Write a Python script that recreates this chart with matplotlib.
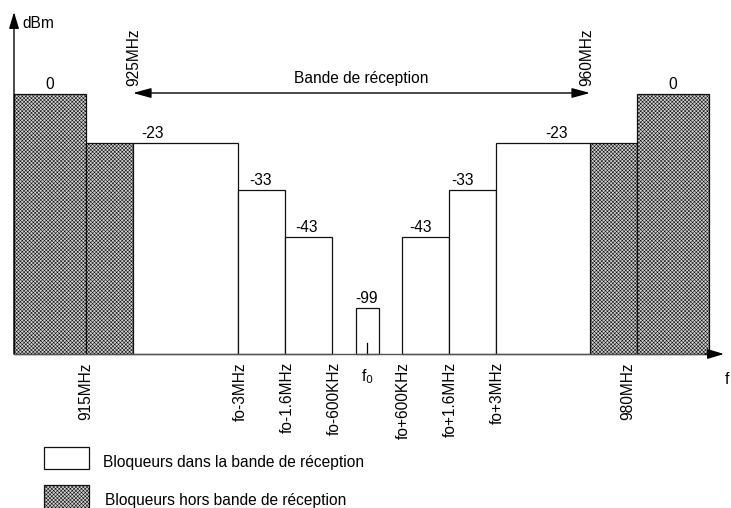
import matplotlib
matplotlib.use('Agg')
import matplotlib.pyplot as plt
from matplotlib.patches import Rectangle

plt.rcParams['font.family'] = ['Liberation Sans', 'DejaVu Sans']
plt.rcParams['hatch.linewidth'] = 0.4
plt.rcParams['hatch.color'] = '#3a3a3a'

# blockers inside the reception band (schematic x position, width, level in dBm, drawn height)
band_left = [133, 238, 285, 356, 402, 449, 496]
band_width = [105, 47, 47, 23, 47, 47, 94]
band_level = [-23, -33, -43, -99, -43, -33, -23]
band_height = [211, 164, 117, 46, 117, 164, 211]
band_label_x = [153, 261, 306, 367, 421, 462, 556]

# blockers outside the reception band
out_left = [14, 86, 590, 637]
out_width = [72, 47, 47, 72]
out_level = [0, -23, -23, 0]
out_height = [260, 211, 211, 260]
out_label_x = [50, None, None, 673]

# frequency ticks under the axis
tick_x = [86, 240, 287, 334, 403, 450, 497, 628]
tick_labels = ['915MHz', 'fo-3MHz', 'fo-1.6MHz', 'fo-600KHz',
               'fo+600KHz', 'fo+1.6MHz', 'fo+3MHz', '980MHz']

fig = plt.figure(figsize=(7.31, 5.08), dpi=100)
ax = fig.add_axes([0, 0, 1, 1])
ax.set_xlim(0, 731)
ax.set_ylim(-154, 354)
ax.axis('off')

fs = 11.2
hatch = 'xxxxxxxxx'
grey = '#d2d2d2'

# hatched out-of-band blockers
ax.bar(out_left, out_height, width=out_width, align='edge', facecolor=grey,
       edgecolor='#111111', linewidth=0.9, hatch=hatch, zorder=2)
for x, h, lv in zip(out_label_x, out_height, out_level):
    if x is not None:
        ax.text(x, h + 5, str(lv), ha='center', va='baseline', fontsize=fs)

# white in-band blockers
ax.bar(band_left, band_height, width=band_width, align='edge', facecolor='white',
       edgecolor='#111111', linewidth=0.9, zorder=2)
for x, h, lv in zip(band_label_x, band_height, band_level):
    ax.text(x, h + 5, str(lv), ha='center', va='baseline', fontsize=fs)

# small marker at f0
ax.plot([367, 367], [0, 11], color='black', lw=0.9, zorder=3)

# axes with arrows
ax.annotate('', xy=(14, 342), xytext=(14, 0),
            arrowprops=dict(arrowstyle='-|>,head_length=1.0,head_width=0.3',
                            color='black', lw=1, shrinkA=0, shrinkB=0,
                            mutation_scale=10), zorder=4)
ax.plot([14, 712], [0, 0], color='#555555', lw=1, zorder=4)
ax.annotate('', xy=(724, 0), xytext=(705, 0),
            arrowprops=dict(arrowstyle='-|>,head_length=1.0,head_width=0.3',
                            color='black', lw=1, shrinkA=0, shrinkB=0,
                            mutation_scale=10), zorder=4)
ax.text(22, 331, 'dBm', ha='left', va='center', fontsize=fs)
ax.text(727, -26, 'f', ha='center', va='center', fontsize=fs)

# tick labels
for x, lab in zip(tick_x, tick_labels):
    ax.text(x, -8, lab, rotation=90, ha='center', va='top', fontsize=fs)
ax.text(367, -23, r'f$_0$', ha='center', va='center', fontsize=fs)

# reception band
ax.annotate('', xy=(133, 261), xytext=(590, 261),
            arrowprops=dict(arrowstyle='<|-|>,head_length=1.1,head_width=0.3',
                            color='black', lw=1, shrinkA=0, shrinkB=0,
                            mutation_scale=10))
ax.text(361, 276, 'Bande de réception', ha='center', va='center', fontsize=fs)
ax.text(134, 268, '925MHz', rotation=90, ha='center', va='bottom', fontsize=fs)
ax.text(587, 268, '960MHz', rotation=90, ha='center', va='bottom', fontsize=fs)

# legend
ax.add_patch(Rectangle((44, -115), 45, 22, facecolor='white', edgecolor='#111111', lw=0.9))
ax.text(103, -108, 'Bloqueurs dans la bande de réception', ha='left', va='center', fontsize=fs)
ax.add_patch(Rectangle((44, -154), 45, 23, facecolor=grey, edgecolor='#111111',
                       lw=0.9, hatch=hatch))
ax.text(105, -146, 'Bloqueurs hors bande de réception', ha='left', va='center', fontsize=fs)

fig.savefig('out.png', dpi=100)
